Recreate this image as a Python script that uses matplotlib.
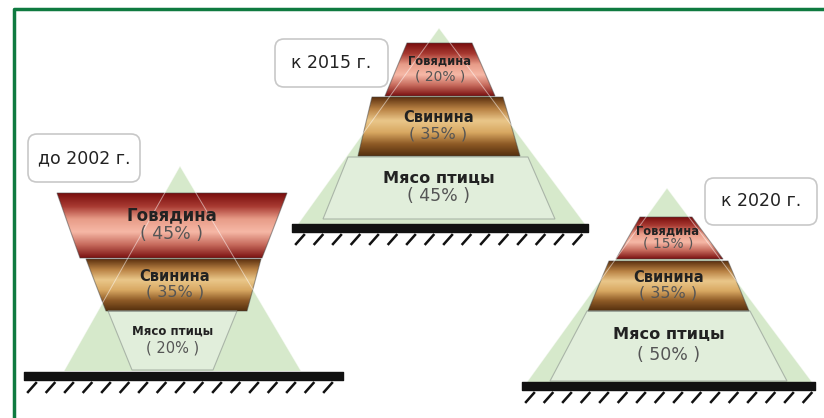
import matplotlib.pyplot as plt
import numpy as np
from matplotlib.patches import Polygon, FancyBboxPatch
from matplotlib.colors import LinearSegmentedColormap

# data
periods = ['до 2002 г.', 'к 2015 г.', 'к 2020 г.']
meats = ['Говядина', 'Свинина', 'Мясо птицы']
shares = [[45, 35, 20],
          [20, 35, 45],
          [15, 35, 50]]

# layout of each pyramid (pixel coords, y down)
# band corners: (top y, top x0, top x1, bottom y, bottom x0, bottom x1)
bands = [
    [(193, 57, 287, 258, 80, 262), (259, 86, 261, 311, 106, 247), (311, 108, 237, 370, 132, 213)],
    [(43, 407, 472, 96, 385, 495), (97, 372, 503, 156, 358, 520), (157, 348, 528, 219, 323, 555)],
    [(217, 640, 692, 259, 616, 723), (261, 609, 728, 311, 588, 749), (311, 587, 750, 381, 550, 787)],
]
triangles = [((180, 166), (64, 371), (301, 371)),
             ((439, 28), (298, 224), (585, 224)),
             ((667, 188), (527, 382), (812, 382))]
grounds = [(24, 343, 372), (292, 588, 224), (522, 815, 382)]
boxes = [(28, 134, 112, 48), (275, 39, 113, 48), (705, 178, 112, 47)]
fs_name = [[12, 10.5, 8.5], [8.3, 10.5, 11.6], [8.3, 10.5, 11.6]]
fs_pct = [[12.5, 11.5, 10.5], [10, 11.5, 12.5], [10, 11.5, 12.5]]

cm_beef = LinearSegmentedColormap.from_list('beef', ['#7a0e0e', '#a83a32', '#e89c88', '#f6b8a6', '#c66a5c', '#7c1212'])
cm_pork = LinearSegmentedColormap.from_list('pork', ['#5e3210', '#b98244', '#eac78a', '#d8a862', '#8e5a26', '#55300e'])

fig = plt.figure(figsize=(8.24, 4.18), dpi=100)
ax = fig.add_axes([0, 0, 1, 1])
ax.set_xlim(0, 824)
ax.set_ylim(418, 0)
ax.axis('off')

# green frame
ax.plot([14, 14, 824], [418, 8.5, 8.5], color='#0f7a40', lw=2.5, solid_capstyle='butt')

grad = np.linspace(0, 1, 100).reshape(-1, 1)

for i in range(3):
    tri = triangles[i]
    ax.add_patch(Polygon(tri, closed=True, facecolor='#d6e9cb', edgecolor='none', zorder=1))
    for j in range(3):
        ty, tx0, tx1, by, bx0, bx1 = bands[i][j]
        pts = [(tx0, ty), (tx1, ty), (bx1, by), (bx0, by)]
        if j == 2:
            ax.add_patch(Polygon(pts, closed=True, facecolor='#e1eedb', edgecolor='#aab5a8', lw=0.8, zorder=2))
        else:
            cmap = cm_beef if j == 0 else cm_pork
            poly = Polygon(pts, closed=True, facecolor='none', edgecolor='#444444', lw=0.8, alpha=0.5, zorder=3)
            ax.add_patch(poly)
            im = ax.imshow(grad, cmap=cmap, aspect='auto', extent=(min(tx0, bx0), max(tx1, bx1), by, ty), zorder=2)
            im.set_clip_path(poly)
        cy = (ty + by) / 2
        cx = (tx0 + tx1 + bx0 + bx1) / 4
        ax.text(cx, cy - 0.16 * (by - ty), meats[j], ha='center', va='center',
                fontsize=fs_name[i][j], fontweight='bold', color='#222222', zorder=5)
        ax.text(cx, cy + 0.13 * (by - ty), '( %d%% )' % shares[i][j], ha='center', va='center',
                fontsize=fs_pct[i][j], color='#555555', zorder=5)
    # faint triangle edges over the bands
    (ax_, ay_), (lx, ly), (rx, ry) = tri
    ax.plot([lx, ax_, rx], [ly, ay_, ry], color='white', lw=0.7, alpha=0.5, zorder=4)

    # ground with hatching
    gx0, gx1, gy = grounds[i]
    ax.fill_between([gx0, gx1], gy, gy + 8, color='#111111', zorder=4)
    for hx in np.arange(gx0 + 4, gx1 - 6, 18.5):
        ax.plot([hx, hx + 8], [gy + 20, gy + 11], color='#111111', lw=1.8, zorder=4)

    # period label box
    bx, by_, bw, bh = boxes[i]
    ax.add_patch(FancyBboxPatch((bx, by_), bw, bh, boxstyle='round,pad=0,rounding_size=9',
                                facecolor='white', edgecolor='#c8c8c8', lw=1.2, zorder=6))
    ax.text(bx + bw / 2, by_ + bh / 2, periods[i], ha='center', va='center', fontsize=12.5,
            color='#222222', zorder=7)

fig.savefig('out.png', dpi=100)
